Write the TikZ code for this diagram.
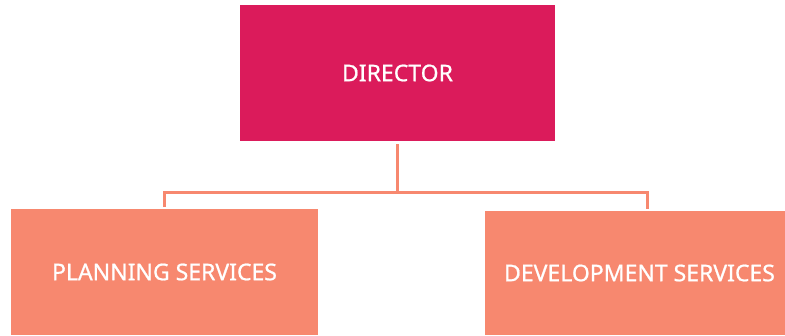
\documentclass[tikz,border=0pt]{standalone}
\usepackage{fontspec}
\setmainfont[FakeBold=0.8]{Noto Sans}
\definecolor{dirred}{RGB}{219,27,91}
\definecolor{salmon}{RGB}{247,136,111}
\begin{document}
\begin{tikzpicture}[x=1pt,y=-1pt,
  box/.style={draw=none,minimum width=#1,inner sep=0pt,text=white,font=\fontsize{23}{26}\selectfont\bfseries},
  conn/.style={draw=salmon,line width=3pt}]
\useasboundingbox[fill=white] (0,0) rectangle (785,335);
\fill[dirred] (240,5) rectangle (555,141);
\node[box=10pt] (dir) at (397.5,73) {DIRECTOR};
\fill[salmon] (11,209) rectangle (318,335);
\node[box=10pt] (plan) at (164.5,272) {PLANNING SERVICES};
\fill[salmon] (485,211) rectangle (785,335);
\node[box=10pt] (dev) at (639.5,273) {DEVELOPMENT SERVICES};
\coordinate (top) at (397.5,144);
\coordinate (mid) at (397.5,192);
\coordinate (l) at (164.5,207);
\coordinate (r) at (647,209);
\draw[conn] (top) -- (mid);
\draw[conn] (l) |- (mid) -| (r);
\end{tikzpicture}
\end{document}
